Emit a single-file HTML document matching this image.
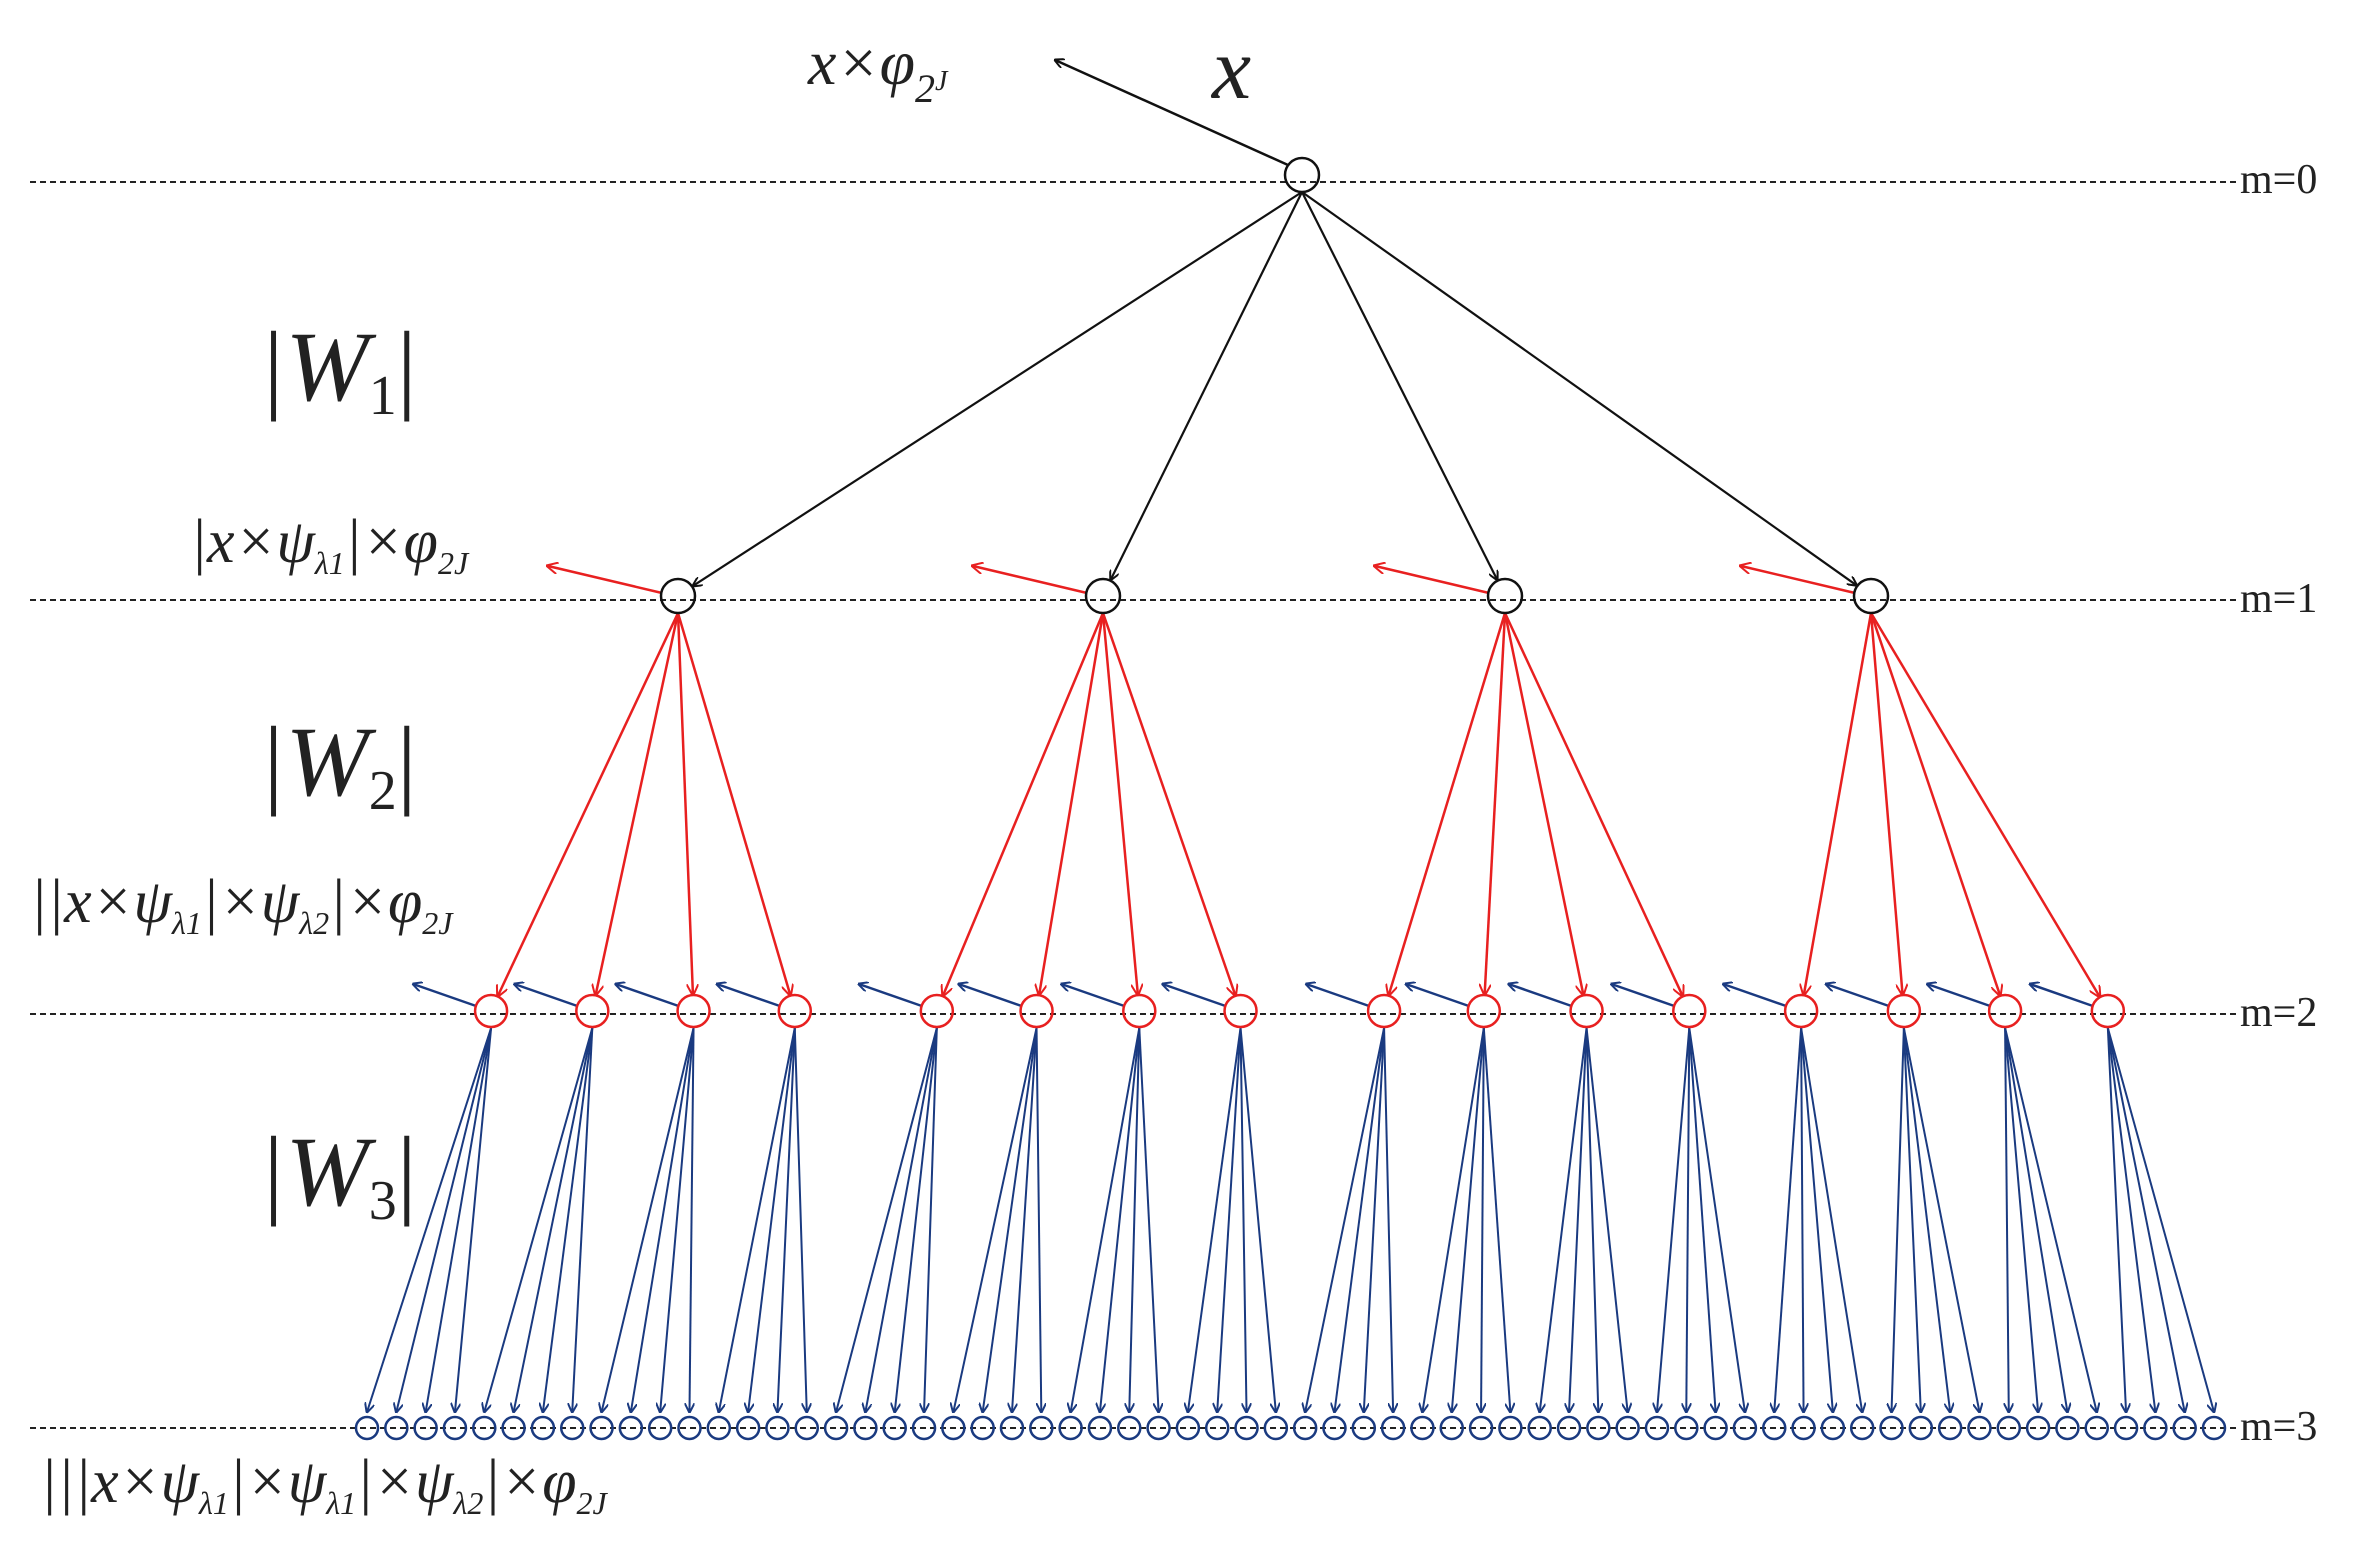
<!DOCTYPE html>
<html><head><meta charset="utf-8"><style>
html,body{margin:0;padding:0;background:#fff}
svg{display:block}
.t{font-family:"Liberation Serif",serif;font-style:italic;fill:#222}
.n{font-family:"Liberation Serif",serif;fill:#222}
</style></head><body>
<svg id="s" width="2357" height="1545" viewBox="0 0 2357 1545" xmlns="http://www.w3.org/2000/svg">
<defs>
<marker id="ak" markerWidth="10" markerHeight="10" refX="9" refY="5" orient="auto" markerUnits="userSpaceOnUse" viewBox="0 0 10 10"><path d="M0,0 L10,5 L0,10" fill="none" stroke="#111" stroke-width="2"/></marker>
<marker id="ar" markerWidth="12" markerHeight="12" refX="10" refY="6" orient="auto" markerUnits="userSpaceOnUse" viewBox="0 0 12 12"><path d="M0,0 L12,6 L0,12" fill="none" stroke="#e82020" stroke-width="2"/></marker>
<marker id="ab" markerWidth="10" markerHeight="10" refX="9" refY="5" orient="auto" markerUnits="userSpaceOnUse" viewBox="0 0 10 10"><path d="M0,0 L10,5 L0,10" fill="none" stroke="#1a3a80" stroke-width="2"/></marker>
</defs>
<g stroke="#222" stroke-width="2" stroke-dasharray="6,4">
<line x1="30" y1="182" x2="2236" y2="182"/>
<line x1="30" y1="600" x2="2236" y2="600"/>
<line x1="30" y1="1014" x2="2236" y2="1014"/>
<line x1="30" y1="1428" x2="2236" y2="1428"/>
</g>
<g class="n" font-size="42">
<text x="2240" y="193">m=0</text>
<text x="2240" y="612">m=1</text>
<text x="2240" y="1026">m=2</text>
<text x="2240" y="1440">m=3</text>
</g>
<g id="g"></g>
<text class="t" x="808" y="84" font-size="64">x×φ<tspan font-size="40" dy="18">2</tspan><tspan font-size="28" dy="-12">J</tspan></text>
<text class="t" x="1212" y="98" font-size="88">x</text>
<g class="t" font-size="100">
<text x="258" y="400">|W<tspan font-size="56" dy="14" font-style="normal">1</tspan><tspan dy="-14" font-style="normal">|</tspan></text>
<text x="258" y="795">|W<tspan font-size="56" dy="14" font-style="normal">2</tspan><tspan dy="-14" font-style="normal">|</tspan></text>
<text x="258" y="1205">|W<tspan font-size="56" dy="14" font-style="normal">3</tspan><tspan dy="-14" font-style="normal">|</tspan></text>
</g>
<g class="t" font-size="62" fill="#333">
<text x="190" y="562">|x×ψ<tspan font-size="32" dy="12">λ1</tspan><tspan dy="-12">|×φ</tspan><tspan font-size="32" dy="12">2J</tspan></text>
<text x="30" y="922">||x×ψ<tspan font-size="32" dy="12">λ1</tspan><tspan dy="-12">|×ψ</tspan><tspan font-size="32" dy="12">λ2</tspan><tspan dy="-12">|×φ</tspan><tspan font-size="32" dy="12">2J</tspan></text>
<text x="40" y="1502">|||x×ψ<tspan font-size="32" dy="12">λ1</tspan><tspan dy="-12">|×ψ</tspan><tspan font-size="32" dy="12">λ1</tspan><tspan dy="-12">|×ψ</tspan><tspan font-size="32" dy="12">λ2</tspan><tspan dy="-12">|×φ</tspan><tspan font-size="32" dy="12">2J</tspan></text>
</g>
</svg>
<script>
var g=document.getElementById('g'),h='';
function L(x1,y1,x2,y2,c,m,w){h+='<line x1="'+x1+'" y1="'+y1+'" x2="'+x2+'" y2="'+y2+'" stroke="'+c+'" stroke-width="'+w+'" marker-end="url(#'+m+')"/>';}
function C(x,y,r,c,w){h+='<circle cx="'+x+'" cy="'+y+'" r="'+r+'" fill="none" stroke="'+c+'" stroke-width="'+w+'"/>';}
var rx=1302,ry=175;
L(rx-14,ry-10,1055,60,'#111','ak',2.5);
var m1=[678,1103,1505,1871],y1=596;
m1.forEach(function(x){
 var dx=x-rx,dy=y1-ry,d=Math.hypot(dx,dy);
 L(rx,ry+17,x-dx/d*18,y1-dy/d*18,'#111','ak',2.2);
 L(x-16,y1-3,x-130,y1-30,'#e82020','ar',2.5);
});
var d2=[325,392,459,526,620,686,754,821,916,982,1050,1118,1192,1260,1327,1395],y2=1011,m2=[];
d2.forEach(function(v){m2.push(v*1.511);});
m2.forEach(function(x,i){
 var p=m1[Math.floor(i/4)];
 var dx=x-p,dy=y2-y1,d=Math.hypot(dx,dy);
 L(p,y1+17,x-dx/d*17,y2-dy/d*17,'#e82020','ar',2.5);
 L(x-15,y2-5,x-78,y2-27,'#1a3a80','ab',2.5);
});
var y3=1424;
for(var k=0;k<64;k++){
 var x=367+k*(2214-367)/63, p=m2[Math.floor(k/4)];
 L(p,y2+17,x,y3-12,'#1a3a80','ab',2);
}
m1.forEach(function(x){C(x,y1,17,'#111',2.5);});
C(rx,ry,17,'#111',2.5);
m2.forEach(function(x){C(x,y2,16,'#e82020',2.5);});
for(var k=0;k<64;k++){C(367+k*(2214-367)/63,y3+4,11,'#1a3a80',2.5);}
g.innerHTML=h;
</script>
</body></html>
